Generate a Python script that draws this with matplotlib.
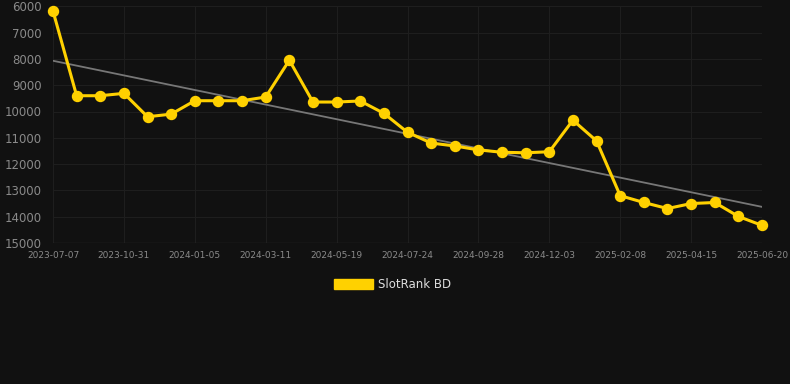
import matplotlib
matplotlib.use("Agg")
import matplotlib.pyplot as plt
from matplotlib.patches import Patch
import numpy as np

dates = ["2023-07-07", "2023-08-15", "2023-09-23", "2023-10-31", "2023-11-22",
         "2023-12-14", "2024-01-05", "2024-01-27", "2024-02-18", "2024-03-11",
         "2024-04-03", "2024-04-26", "2024-05-19", "2024-06-10", "2024-07-02",
         "2024-07-24", "2024-08-15", "2024-09-06", "2024-09-28", "2024-10-20",
         "2024-11-11", "2024-12-03", "2024-12-25", "2025-01-17", "2025-02-08",
         "2025-03-02", "2025-03-24", "2025-04-15", "2025-05-07", "2025-05-29",
         "2025-06-20"]
ranks = [6180, 9400, 9400, 9310, 10200, 10100, 9590, 9590, 9590, 9450,
         8050, 9640, 9640, 9600, 10070, 10790, 11200, 11310, 11460, 11550,
         11570, 11530, 10330, 11120, 13200, 13460, 13690, 13500, 13460, 13990,
         14330]
series_name = "SlotRank BD"
y_ticks = [6000, 7000, 8000, 9000, 10000, 11000, 12000, 13000, 14000, 15000]

BG = "#111111"
YEL = "#FFD100"

fig = plt.figure(figsize=(7.9, 3.84), dpi=100, facecolor=BG)
ax = fig.add_axes([53/790, 1-243/384, (762-53)/790, (243-6.3)/384])
ax.set_facecolor(BG)

x = np.arange(len(dates))
coef = np.polyfit(x, ranks, 1)
ax.plot(x, np.polyval(coef, x), color="#777777", lw=1.3, zorder=2)
ax.plot(x, ranks, color=YEL, lw=2.2, marker="o", markersize=7.2,
        markerfacecolor=YEL, markeredgecolor=YEL, zorder=3, clip_on=False)

ax.set_xlim(0, len(dates)-1)
ax.set_ylim(15000, 6000)
ax.set_yticks(y_ticks)
ax.set_yticklabels([str(v) for v in y_ticks])
tick_idx = list(range(0, len(dates), 3))
ax.set_xticks(tick_idx)
ax.set_xticklabels([dates[i] for i in tick_idx])

for s in ax.spines.values():
    s.set_visible(False)
ax.grid(True, color="#1e1e1e", lw=0.8)
ax.set_axisbelow(True)
ax.tick_params(axis="y", length=0, pad=8, labelsize=8.5, labelcolor="#8a8a8a")
ax.tick_params(axis="x", length=0, pad=6, labelsize=6.5, labelcolor="#8a8a8a")
ax.axhline(15000, color="#2a2a2a", lw=1, zorder=1)

handle = Patch(facecolor=YEL, edgecolor=YEL)
fig.legend([handle], [series_name], loc="center", bbox_to_anchor=(0.497, 1-284.5/384),
           frameon=False, handlelength=3.3, handleheight=1.0, handletextpad=0.5,
           fontsize=8.5, labelcolor="#dddddd")

fig.savefig("out.png", dpi=100, facecolor=BG)
